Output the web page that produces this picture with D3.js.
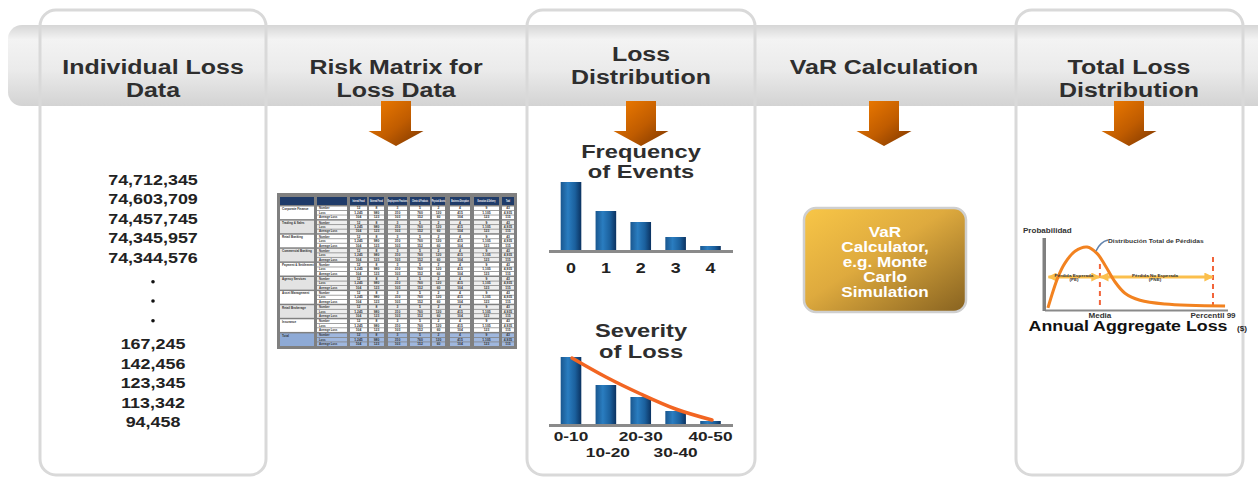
<!DOCTYPE html>
<html><head><meta charset="utf-8">
<script src="https://cdn.jsdelivr.net/npm/d3@7"></script>
<style>
html,body{margin:0;padding:0;background:#fff;}
svg{display:block;font-family:"Liberation Sans",Arial,sans-serif;font-weight:bold;}
</style>
</head><body>
<svg id="c" width="1258" height="477"></svg>
<script>
// ---------------- DATA ----------------
const stageTitles = [["Individual Loss","Data"],["Risk Matrix for","Loss Data"],["Loss","Distribution"],["VaR Calculation"],["Total Loss","Distribution"]];
const lossTop = [74712345, 74603709, 74457745, 74345957, 74344576];
const lossBottom = [167245, 142456, 123345, 113342, 94458];
const freqCategories = ["0","1","2","3","4"];
const freqValues = [68, 39, 28, 13, 4];
const sevCategories = ["0-10","10-20","20-30","30-40","40-50"];
const sevValues = [67, 39, 27, 13, 3];
const sevFit = [66, 47, 30, 15, 4];
const varLines = ["VaR","Calculator,","e.g. Monte","Carlo","Simulation"];
const aggLoss = [1.6, 7.1, 10.9, 16.4, 23, 28.4, 32.8, 38.3, 43.7, 51.9, 65.6, 98.4];
const aggProb = [0.03, 0.47, 0.67, 0.84, 0.9, 0.81, 0.64, 0.4, 0.24, 0.14, 0.086, 0.057];
const aggMean = 30, aggP99 = 91.8;
const matrixHeader = ["Business Line","Measure","Internal Fraud","External Fraud","Employment Practices","Clients & Products","Physical Assets","Business Disruption","Execution & Delivery","Total"];
const matrixGroups = ["Corporate Finance","Trading & Sales","Retail Banking","Commercial Banking","Payment & Settlement","Agency Services","Asset Management","Retail Brokerage","Insurance","Total"];
const matrixMeasures = ["Number","Loss","Average Loss"];
const matrixCells = [["12","8","3","5","2","4","9","43"],["1,245","980","310","760","120","415","1,105","4,935"],["104","123","103","152","60","104","123","115"]];

// ---------------- SETUP ----------------
const svg = d3.select("#c");
const defs = svg.append("defs");
const SX = 1.28;
function T(sel, x, y, s, size, o = {}) {
  return sel.append("text")
    .attr("transform", `translate(${x},${y}) scale(${o.sx || SX},1)`)
    .attr("text-anchor", o.anchor || "middle")
    .attr("font-size", size)
    .attr("fill", o.fill || "#2b2b2b")
    .text(s);
}
function grad(id, x2, y2, stops) {
  const g = defs.append("linearGradient").attr("id", id).attr("x1", 0).attr("y1", 0).attr("x2", x2).attr("y2", y2);
  stops.forEach(s => g.append("stop").attr("offset", s[0]).attr("stop-color", s[1]));
}
grad("band", 0, 1, [["0%","#d6d6d6"],["18%","#f3f3f3"],["55%","#ebebeb"],["100%","#d3d3d3"]]);
grad("arrow", 1, 1, [["0%","#f27d00"],["55%","#c05c00"],["100%","#7a3500"]]);
grad("bar", 1, 0, [["0%","#1a578f"],["35%","#2a7dc0"],["70%","#1b609d"],["100%","#0b3260"]]);
grad("gold", 1, 1, [["0%","#f8c647"],["45%","#deaa3e"],["100%","#876220"]]);

// ---------------- PANELS & BAND ----------------
const panels = [[40,266],[527,755],[1016,1243]];
svg.selectAll(".pfill").data(panels).join("rect")
  .attr("x", d => d[0]).attr("y", 10).attr("width", d => d[1]-d[0]).attr("height", 465)
  .attr("rx", 16).attr("fill", "#fff");
svg.append("rect").attr("x", 8).attr("y", 25).attr("width", 1280).attr("height", 81)
  .attr("rx", 14).attr("fill", "url(#band)");
svg.selectAll(".pstroke").data(panels).join("rect")
  .attr("x", d => d[0]).attr("y", 10).attr("width", d => d[1]-d[0]).attr("height", 465)
  .attr("rx", 16).attr("fill", "none").attr("stroke", "#d9d9d9").attr("stroke-width", 3);

// titles
const colX = [153, 396, 641, 884, 1129];
stageTitles.forEach((lines, i) => {
  const base = (i === 2) ? 61 : (lines.length === 1 ? 74 : 74);
  lines.forEach((l, j) => T(svg, colX[i], base + j*22.5, l, 19.5, {fill:"#2e2e2e"}));
});

// arrows
[396, 641, 884, 1129].forEach(cx => {
  svg.append("path")
    .attr("d", `M${cx-15},101 H${cx+15} V131 H${cx+27.5} L${cx},146 L${cx-27.5},131 H${cx-15} Z`)
    .attr("fill", "url(#arrow)");
});

// ---------------- COLUMN 1: loss list ----------------
const fmt = d3.format(",");
lossTop.forEach((v, i) => T(svg, 153, 185 + i*19.4, fmt(v), 14, {fill:"#222"}));
[281.7, 301, 320.7].forEach(y => svg.append("circle").attr("cx", 153).attr("cy", y).attr("r", 1.8).attr("fill", "#111"));
lossBottom.forEach((v, i) => T(svg, 153, 349 + i*19.5, fmt(v), 14, {fill:"#222"}));

// ---------------- COLUMN 2: risk matrix ----------------
const mg = svg.append("g");
const colEdges = [[280,314],[317,347],[350,367],[369,384],[388,407],[410,430],[432,445],[450,470],[474,499],[502,514]];
mg.append("rect").attr("x", 277).attr("y", 193).attr("width", 240).attr("height", 156).attr("fill", "#808080");
colEdges.forEach((c, k) => {
  mg.append("rect").attr("x", c[0]).attr("y", 197).attr("width", c[1]-c[0]).attr("height", 8).attr("fill", "#1f3b69");
  if (k >= 2) T(mg, (c[0]+c[1])/2, 202, matrixHeader[k], 2.6, {fill:"#fff", sx:0.7});
});
matrixGroups.forEach((gname, gi) => {
  const gy = 206.5 + gi*14.1;
  const isTotal = gi === matrixGroups.length - 1;
  const labelFill = isTotal ? "#8eaad6" : (gi % 2 ? "#e3e3e3" : "#ffffff");
  const cellFill = isTotal ? "#9fb7de" : (gi % 2 ? "#eeeeee" : "#ffffff");
  mg.append("rect").attr("x", 280).attr("y", gy).attr("width", 34).attr("height", 12.6).attr("fill", labelFill);
  T(mg, 282, gy + 3.3, gname, 3, {anchor:"start", fill:"#333", sx:1});
  matrixMeasures.forEach((m, ri) => {
    const ry = gy + ri*4.45;
    colEdges.slice(1).forEach((c, k) => {
      mg.append("rect").attr("x", c[0]).attr("y", ry).attr("width", c[1]-c[0]).attr("height", 3.7).attr("fill", cellFill);
      if (k === 0) T(mg, c[0]+2, ry + 2.9, m, 2.8, {anchor:"start", fill:"#333", sx:1});
      else T(mg, (c[0]+c[1])/2, ry + 2.9, matrixCells[ri][k-1], 2.8, {fill:"#333", sx:1.2});
    });
  });
});

// ---------------- COLUMN 3: loss distribution ----------------
const xF = d3.scalePoint().domain(freqCategories).range([571, 710.5]);
const yF = d3.scaleLinear().domain([0, 70]).range([250, 180]);
T(svg, 641, 158, "Frequency", 18.5, {fill:"#2e2e2e"});
T(svg, 641, 178, "of Events", 18.5, {fill:"#2e2e2e"});
svg.selectAll(".fb").data(freqValues).join("rect")
  .attr("x", (d, i) => xF(freqCategories[i]) - 10.3).attr("width", 20.6)
  .attr("y", d => yF(d)).attr("height", d => yF(0) - yF(d)).attr("fill", "url(#bar)");
svg.append("line").attr("x1", 549).attr("x2", 733).attr("y1", 251.4).attr("y2", 251.4).attr("stroke", "#8a8a8a").attr("stroke-width", 3);
freqCategories.forEach(c => T(svg, xF(c), 273, c, 14, {fill:"#222"}));

const xS = d3.scalePoint().domain(sevCategories).range([571, 710.5]);
const yS = d3.scaleLinear().domain([0, 70]).range([424, 354]);
T(svg, 641, 337, "Severity", 18.5, {fill:"#2e2e2e"});
T(svg, 641, 358, "of Loss", 18.5, {fill:"#2e2e2e"});
svg.selectAll(".sb").data(sevValues).join("rect")
  .attr("x", (d, i) => xS(sevCategories[i]) - 10.3).attr("width", 20.6)
  .attr("y", d => yS(d)).attr("height", d => yS(0) - yS(d)).attr("fill", "url(#bar)");
svg.append("line").attr("x1", 549).attr("x2", 733).attr("y1", 425.4).attr("y2", 425.4).attr("stroke", "#8a8a8a").attr("stroke-width", 3);
svg.append("path")
  .attr("d", d3.line().x((d, i) => xS(sevCategories[i]) + (i === 4 ? 1.5 : (i === 0 ? 1 : 0))).y(d => yS(d)).curve(d3.curveMonotoneX)(sevFit))
  .attr("fill", "none").attr("stroke", "#f26522").attr("stroke-width", 3.5).attr("stroke-linecap", "round");
sevCategories.forEach((c, i) => T(svg, xS(c) + (i === 1 ? 2 : 0), i % 2 ? 457 : 441, c, 13.5, {fill:"#222"}));

// ---------------- COLUMN 4: VaR box ----------------
svg.append("rect").attr("x", 804).attr("y", 208).attr("width", 162).attr("height", 104).attr("rx", 12)
  .attr("fill", "url(#gold)").attr("stroke", "#cfcfcf").attr("stroke-width", 2.5);
varLines.forEach((l, i) => T(svg, 885, 237 + i*15, l, 14, {fill:"#fff", sx:1.22}));

// ---------------- COLUMN 5: total loss ----------------
const xA = d3.scaleLinear().domain([0, 100]).range([1045, 1228]);
const yA = d3.scaleLinear().domain([0, 1]).range([310, 240]);
const ag = svg.append("g");
defs.append("marker").attr("id", "yh").attr("viewBox", "0 0 10 10").attr("refX", 9).attr("refY", 5)
  .attr("markerWidth", 9).attr("markerHeight", 9).attr("markerUnits", "userSpaceOnUse").attr("orient", "auto-start-reverse")
  .append("path").attr("d", "M0,0 L10,5 L0,10 Z").attr("fill", "#fbbf4c");
ag.append("line").attr("x1", xA(0)).attr("x2", 1228).attr("y1", 310.5).attr("y2", 310.5).attr("stroke", "#8a8a8a").attr("stroke-width", 2);
ag.append("rect").attr("x", 1042.5).attr("y", 238).attr("width", 3.5).attr("height", 73).attr("fill", "#808080");
[[aggMean, 264], [aggP99, 257]].forEach(d => ag.append("line").attr("x1", xA(d[0])).attr("x2", xA(d[0]))
  .attr("y1", d[1]).attr("y2", 309).attr("stroke", "#f2643a").attr("stroke-width", 2).attr("stroke-dasharray", "5,4"));
[[aggLoss[0], aggMean], [aggMean, aggP99]].forEach(d => ag.append("line")
  .attr("x1", xA(d[0]) + 0.5).attr("x2", xA(d[1]) - 0.5).attr("y1", 277).attr("y2", 277)
  .attr("stroke", "#fbbf4c").attr("stroke-width", 3).attr("marker-start", "url(#yh)").attr("marker-end", "url(#yh)"));
ag.append("path").attr("d", d3.line().x((d, i) => xA(aggLoss[i])).y(d => yA(d)).curve(d3.curveCatmullRom)(aggProb))
  .attr("fill", "none").attr("stroke", "#f28220").attr("stroke-width", 3);
ag.append("path").attr("d", "M1096,251 Q1100,242 1108,240").attr("fill", "none").attr("stroke", "#6283ad").attr("stroke-width", 1.6);
T(ag, 1108, 243, "Distribución Total de Pérdidas", 5.2, {anchor:"start", fill:"#333"});
T(ag, 1023, 233, "Probabilidad", 6.3, {anchor:"start", fill:"#333"});
T(ag, 1074, 277, "Pérdida Esperada", 3.6, {fill:"#333"});
T(ag, 1074, 281, "(PE)", 3.6, {fill:"#333"});
T(ag, 1155, 277, "Pérdida No Esperada", 3.6, {fill:"#333"});
T(ag, 1155, 281, "(PNE)", 3.6, {fill:"#333"});
T(ag, xA(aggMean), 317.5, "Media", 6.3, {fill:"#333"});
T(ag, xA(aggP99), 317.5, "Percentil 99", 6.3, {fill:"#333"});
T(ag, 1128, 331, "Annual Aggregate Loss", 14, {fill:"#111", sx:1.27});
T(ag, 1242, 331, "($)", 7.5, {fill:"#222", sx:1.1});
</script>
</body></html>
